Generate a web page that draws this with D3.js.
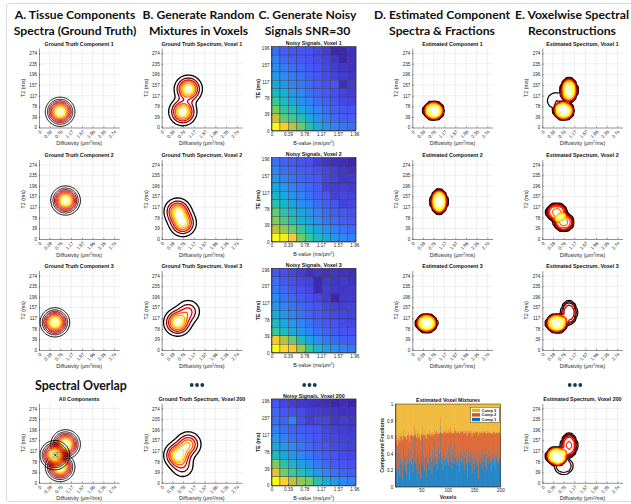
<!DOCTYPE html>
<html><head><meta charset="utf-8">
<script src="https://cdn.jsdelivr.net/npm/d3@7"></script>
<style>body{margin:0;background:#fff;overflow:hidden}</style>
</head><body><script>
// ---------------- DATA ----------------
const headerLines = [
  ["A. Tissue Components","Spectra (Ground Truth)"],
  ["B. Generate Random","Mixtures in Voxels"],
  ["C. Generate Noisy","Signals SNR=30"],
  ["D. Estimated Component","Spectra & Fractions"],
  ["E. Voxelwise Spectral","Reconstructions"]];
const diffTicks = [0,0.39,0.78,1.17,1.57,1.96,2.35,2.74];
const t2Ticks = [0,39,78,117,157,196,235,274];
const bTicks = [0,0.39,0.78,1.17,1.57,1.96];
const teTicks = [0,39,78,117,157,196];
const fracTicks = [0,0.2,0.4,0.6,0.8,1];
const voxelTicks = [50,100,150,200];
const voxelIds = [1,2,3,200];
const componentNames = ["Comp 1","Comp 2","Comp 3"];

// ground-truth components (diffusivity, T2 centre, spreads)
const trueD = [0.77,0.97,0.58];
const trueT2 = [58,142,102];
const trueSdD = [0.24,0.24,0.24];
const trueSdT2 = [24,24,24];
// ground-truth fractions of comp1..3 per shown voxel
const trueFrac = [[0.5,0.5,0],[0.5,0,0.5],[0,0.3,0.7],[0.15,0.35,0.5]];
// estimated components (flat-topped blobs)
const estD = [0.78,0.975,0.52];
const estT2 = [62,138,99];
const estRD = [0.345,0.277,0.355];
const estRT2 = [31,41.8,31];
// estimated fractions per shown voxel
const estFrac = [[0.48,0.45,0.07],[0.5,0,0.5],[0.03,0.27,0.7],[0.12,0.3,0.58]];

// noisy signals (rows: TE high -> low; cols: b low -> high), colour fraction
const signalVoxel1 = [
 [0.22,0.18,0.16,0.16,0.15,0.13,0.11,0.06,0.06,0.08],
 [0.27,0.21,0.18,0.17,0.15,0.14,0.12,0.09,0.05,0.08],
 [0.30,0.25,0.22,0.20,0.17,0.15,0.13,0.11,0.09,0.08],
 [0.33,0.28,0.25,0.23,0.19,0.16,0.14,0.12,0.10,0.09],
 [0.38,0.32,0.27,0.24,0.21,0.18,0.15,0.16,0.07,0.10],
 [0.43,0.40,0.33,0.28,0.23,0.20,0.17,0.15,0.12,0.11],
 [0.52,0.44,0.38,0.31,0.27,0.22,0.19,0.16,0.13,0.12],
 [0.62,0.50,0.46,0.38,0.31,0.27,0.22,0.19,0.16,0.16],
 [0.76,0.58,0.52,0.46,0.38,0.31,0.25,0.21,0.18,0.18],
 [1.00,0.86,0.72,0.60,0.46,0.38,0.31,0.27,0.24,0.22]];
const signalVoxel2 = [
 [0.20,0.17,0.15,0.13,0.12,0.08,0.06,0.05,0.04,0.02],
 [0.25,0.20,0.18,0.16,0.14,0.12,0.10,0.08,0.06,0.05],
 [0.30,0.24,0.21,0.18,0.16,0.14,0.10,0.09,0.06,0.07],
 [0.35,0.30,0.25,0.21,0.18,0.15,0.09,0.08,0.08,0.07],
 [0.40,0.35,0.29,0.25,0.20,0.16,0.14,0.09,0.10,0.09],
 [0.46,0.40,0.34,0.28,0.24,0.19,0.16,0.13,0.09,0.10],
 [0.58,0.47,0.40,0.35,0.29,0.24,0.19,0.16,0.14,0.12],
 [0.62,0.54,0.45,0.38,0.33,0.27,0.22,0.19,0.16,0.14],
 [0.72,0.66,0.58,0.50,0.40,0.34,0.28,0.24,0.20,0.18],
 [1.00,0.96,0.86,0.60,0.50,0.42,0.36,0.30,0.26,0.24]];
const signalVoxel3 = [
 [0.14,0.12,0.10,0.08,0.05,0.07,0.05,0.06,0.05,0.04],
 [0.20,0.14,0.12,0.10,0.09,0.03,0.07,0.06,0.07,0.05],
 [0.22,0.18,0.14,0.12,0.10,0.03,0.08,0.07,0.06,0.07],
 [0.26,0.21,0.18,0.15,0.12,0.10,0.08,0.02,0.07,0.07],
 [0.30,0.25,0.21,0.18,0.15,0.13,0.10,0.09,0.08,0.09],
 [0.36,0.30,0.25,0.21,0.17,0.14,0.12,0.11,0.10,0.09],
 [0.42,0.35,0.30,0.25,0.20,0.17,0.14,0.13,0.11,0.10],
 [0.50,0.42,0.36,0.30,0.25,0.20,0.17,0.15,0.13,0.12],
 [0.84,0.70,0.58,0.42,0.34,0.27,0.22,0.19,0.16,0.15],
 [1.00,0.90,0.85,0.66,0.48,0.40,0.33,0.28,0.24,0.22]];
const signalVoxel200 = [
 [0.14,0.10,0.08,0.07,0.06,0.05,0.04,0.03,0.04,0.02],
 [0.18,0.14,0.12,0.11,0.08,0.08,0.07,0.06,0.05,0.05],
 [0.20,0.17,0.24,0.12,0.08,0.10,0.10,0.07,0.08,0.06],
 [0.24,0.20,0.17,0.15,0.13,0.12,0.10,0.09,0.08,0.07],
 [0.30,0.24,0.20,0.18,0.15,0.13,0.11,0.10,0.09,0.08],
 [0.36,0.30,0.26,0.22,0.18,0.15,0.13,0.11,0.10,0.09],
 [0.42,0.35,0.30,0.26,0.22,0.18,0.15,0.13,0.11,0.10],
 [0.62,0.46,0.40,0.33,0.28,0.22,0.18,0.15,0.13,0.12],
 [0.80,0.60,0.50,0.44,0.38,0.30,0.25,0.20,0.17,0.16],
 [1.00,0.88,0.72,0.64,0.60,0.45,0.37,0.31,0.26,0.23]];
const signals = [signalVoxel1,signalVoxel2,signalVoxel3,signalVoxel200];

// estimated mixture fractions over 200 voxels
const mixComp1 = [
 .30,.42,.18,.05,.35,.48,.22,.40,.12,.33,.45,.28,.38,.10,.30,.52,.25,.35,.44,.20,
 .36,.15,.40,.28,.47,.32,.08,.38,.30,.42,.25,.55,.35,.18,.40,.30,.62,.28,.45,.33,
 .22,.38,.50,.15,.35,.42,.28,.10,.37,.45,.30,.58,.25,.40,.33,.20,.48,.35,.12,.40,
 .30,.44,.26,.38,.52,.20,.36,.42,.30,.15,.46,.34,.40,.25,.55,.32,.38,.28,.45,.36,
 .22,.48,.35,.40,.30,.75,.42,.28,.50,.36,.20,.44,.38,.32,.60,.27,.45,.35,.40,.30,
 .48,.25,.42,.36,.55,.30,.38,.22,.46,.34,.40,.28,.52,.35,.44,.30,.38,.25,.48,.33,
 .40,.18,.36,.45,.30,.42,.26,.38,.50,.32,.20,.44,.35,.40,.28,.46,.12,.36,.42,.30,
 .38,.25,.44,.32,.40,.15,.35,.46,.28,.38,.22,.42,.34,.30,.45,.26,.38,.10,.40,.32,
 .44,.28,.36,.40,.22,.46,.34,.30,.42,.38,.25,.48,.35,.20,.40,.32,.45,.28,.36,.42,
 .30,.38,.18,.44,.34,.40,.26,.46,.32,.38,.22,.42,.35,.30,.44,.28,.38,.34,.40,.32];
const mixComp2 = [
 .33,.20,.38,.45,.24,.18,.35,.22,.42,.28,.20,.33,.24,.46,.30,.17,.37,.26,.22,.40,
 .24,.42,.22,.35,.19,.30,.46,.24,.33,.20,.37,.15,.28,.42,.22,.33,.13,.35,.24,.29,
 .37,.26,.19,.44,.30,.22,.33,.46,.24,.19,.35,.15,.37,.24,.30,.42,.22,.28,.46,.24,
 .33,.22,.37,.26,.17,.42,.28,.22,.35,.46,.20,.30,.24,.37,.15,.33,.26,.40,.22,.28,
 .42,.19,.30,.24,.35,.08,.24,.37,.19,.28,.44,.22,.29,.35,.15,.37,.24,.30,.26,.35,
 .22,.40,.24,.33,.17,.35,.28,.42,.22,.30,.26,.37,.19,.33,.24,.35,.29,.40,.20,.33,
 .28,.46,.30,.22,.37,.26,.40,.29,.19,.33,.44,.24,.30,.28,.37,.22,.50,.33,.26,.35,
 .29,.40,.24,.33,.28,.46,.30,.22,.37,.28,.42,.26,.33,.35,.22,.40,.29,.52,.27,.33,
 .24,.37,.30,.26,.42,.22,.33,.35,.26,.29,.40,.20,.30,.44,.28,.33,.22,.37,.30,.24,
 .35,.28,.46,.24,.30,.26,.40,.22,.33,.28,.42,.24,.30,.35,.22,.37,.29,.33,.26,.30];

// ---------------- SETUP ----------------
const FONT = '"Liberation Sans", Arial, Helvetica, sans-serif';
const svg = d3.select('body').append('svg').attr('width',631).attr('height',504)
  .style('font-family',FONT);
const defs = svg.append('defs');
let clipN = 0;
function clip(x,y,w,h){const id='clip'+(clipN++);defs.append('clipPath').attr('id',id).append('rect').attr('x',x).attr('y',y).attr('width',w).attr('height',h);return `url(#${id})`;}

// frame
svg.append('rect').attr('x',6.5).attr('y',3.5).attr('width',640).attr('height',498).attr('rx',3)
  .attr('fill','none').attr('stroke','#d9d9d9').attr('stroke-width',1);

// headers
const headerX = [75,198.5,307.5,442,572];
const HFONT = 'Lato, "Open Sans", sans-serif';
headerLines.forEach((lines,i)=>{
  lines.forEach((t,j)=>{
    svg.append('text').attr('x',headerX[i]).attr('y',18.5+j*16).attr('text-anchor','middle')
      .style('font-family',HFONT).style('font-weight',700).style('font-size','12.2px')
      .attr('fill','#111').text(t);
  });
});
svg.append('text').attr('x',81).attr('y',389.5).attr('text-anchor','middle')
  .style('font-family',HFONT).style('font-weight',700).style('font-size','12.4px')
  .attr('fill','#111').text('Spectral Overlap');
// ellipsis dots
[197,309.5,575].forEach(cx=>{
  svg.append('g').selectAll('circle').data([-1,0,1]).join('circle')
    .attr('cx',d=>cx+d*5.3).attr('cy',385).attr('r',1.9).attr('fill','#1a3a4e');
});

// ---------------- helpers ----------------
const DMAX = 2.93, TMAX = 293, PW = 80.3, PH = 79.4;
function hot(t){const r=Math.min(1,t/0.375),g=Math.max(0,Math.min(1,(t-0.375)/0.375)),b=Math.max(0,Math.min(1,(t-0.75)/0.25));return d3.rgb(r*255,g*255,b*255).formatHex();}
const TICKFS = '4.6px', LABELFS = '5.3px', TITLEFS = '5.3px';

function styleAxis(ax){
  ax.select('.domain').attr('stroke','#262626').attr('stroke-width',0.5);
  ax.selectAll('.tick line').attr('stroke','#262626').attr('stroke-width',0.5);
  ax.selectAll('.tick text').attr('fill','#262626').style('font-size',TICKFS).style('font-family',FONT);
}

function contourAxes(x0,y0,title){
  const g = svg.append('g');
  const xs = d3.scaleLinear([0,DMAX],[x0,x0+PW]);
  const ys = d3.scaleLinear([0,TMAX],[y0,y0-PH]);
  g.append('g').selectAll('line').data(diffTicks.slice(1)).join('line')
    .attr('x1',d=>xs(d)).attr('x2',d=>xs(d)).attr('y1',y0).attr('y2',y0-PH)
    .attr('stroke','#e4e4e4').attr('stroke-width',0.6);
  g.append('g').selectAll('line').data(t2Ticks.slice(1)).join('line')
    .attr('x1',x0).attr('x2',x0+PW).attr('y1',d=>ys(d)).attr('y2',d=>ys(d))
    .attr('stroke','#e4e4e4').attr('stroke-width',0.6);
  const ay = g.append('g').attr('transform',`translate(${x0},0)`)
    .call(d3.axisLeft(ys).tickValues(t2Ticks).tickFormat(d=>d).tickSize(-1.2).tickPadding(2).tickSizeOuter(0));
  styleAxis(ay);
  const ax = g.append('g').attr('transform',`translate(0,${y0})`)
    .call(d3.axisBottom(xs).tickValues(diffTicks).tickFormat(d=>d===0?'0':d.toFixed(2)).tickSize(-1.2).tickSizeOuter(0));
  styleAxis(ax);
  ax.selectAll('.tick text').attr('y',0).attr('dy',0).attr('text-anchor','end')
    .attr('transform','translate(2.2,4.6) rotate(-45)');
  g.append('text').attr('x',x0+PW/2).attr('y',y0-PH-2.6).attr('text-anchor','middle')
    .style('font-size',TITLEFS).style('font-weight','bold').attr('fill','#111').text(title);
  g.append('text').attr('x',x0+PW/2).attr('y',y0+17.6).attr('text-anchor','middle')
    .style('font-size',LABELFS).attr('fill','#222').html('Diffusivity (<tspan>μm</tspan><tspan dy="-1.8" style="font-size:3.6px">2</tspan><tspan dy="1.8">/ms)</tspan>');
  g.append('text').attr('transform',`translate(${x0-14},${y0-PH/2}) rotate(-90)`).attr('text-anchor','middle')
    .style('font-size',LABELFS).attr('fill','#222').text('T2 (ms)');
  const layer = g.append('g').attr('clip-path',clip(x0,y0-PH,PW,PH));
  return {xs,ys,layer};
}

function drawContours(ax, fn, nx, ny, fracLevels, colors, width){
  const vals = new Float64Array(nx*ny); let mx = 0;
  for(let j=0;j<ny;j++) for(let i=0;i<nx;i++){
    const v = fn(i/(nx-1)*DMAX, j/(ny-1)*TMAX); vals[j*nx+i]=v; if(v>mx) mx=v;
  }
  const cs = d3.contours().size([nx,ny]).thresholds(fracLevels.map(f=>f*mx))(vals);
  const path = d3.geoPath(d3.geoTransform({point(x,y){
    this.stream.point(ax.xs((x-0.5)/(nx-1)*DMAX), ax.ys((y-0.5)/(ny-1)*TMAX));}}));
  ax.layer.append('g').selectAll('path').data(cs).join('path').attr('d',path)
    .attr('fill','none').attr('stroke',(d,i)=>colors[i]).attr('stroke-width',width)
    .attr('stroke-linejoin','round');
}

const gaussComp = k => (D,T) => Math.exp(-0.5*(((D-trueD[k])/trueSdD[k])**2+((T-trueT2[k])/trueSdT2[k])**2));
const flatComp = k => (D,T) => {
  const r2 = ((D-estD[k])/estRD[k])**2+((T-estT2[k])/estRT2[k])**2;
  return Math.exp(-Math.pow(r2,5))*(0.72+0.28*Math.exp(-2*r2));
};
const mixOf = (compFn, fr) => (D,T) => fr.reduce((s,f,k)=> s + (f? f*compFn(k)(D,T):0), 0);

// level sets
const aLevels = d3.range(12).map(i=>0.08+i*0.08);
const aColors = aLevels.map((l,i)=>hot(i/12));
const bLevels = [0.1,0.24,0.38,0.52,0.66,0.8];
const bColors = ['#000000','#700000','#e00000','#ff5a00','#ffb000','#ffee20'];
const eLevels = d3.range(11).map(i=>0.06+i*0.085);
const eColors = eLevels.map((l,i)=>hot(i/11));

const rowZero = [127.5,239,350,482.8];
const colX = {A:39, B:161.7, D:412.3, E:542.3};

// Column A
for(let k=0;k<3;k++){
  const ax = contourAxes(colX.A,rowZero[k],`Ground Truth Component ${k+1}`);
  drawContours(ax,gaussComp(k),80,80,aLevels,aColors,1.0);
}
{
  const ax = contourAxes(colX.A,rowZero[3],'All Components');
  [1,0,2].forEach(k=>drawContours(ax,gaussComp(k),80,80,aLevels,aColors,1.0));
}
// Column B
voxelIds.forEach((v,r)=>{
  const ax = contourAxes(colX.B,rowZero[r],`Ground Truth Spectrum, Voxel ${v}`);
  drawContours(ax,mixOf(gaussComp,trueFrac[r]),80,80,bLevels,bColors,1.3);
});
// Column D
for(let k=0;k<3;k++){
  const ax = contourAxes(colX.D,rowZero[k],`Estimated Component ${k+1}`);
  drawContours(ax,flatComp(k),34,34,eLevels,eColors,1.2);
}
// Column E
voxelIds.forEach((v,r)=>{
  const ax = contourAxes(colX.E,rowZero[r],`Estimated Spectrum, Voxel ${v}`);
  drawContours(ax,mixOf(flatComp,estFrac[r]),34,34,eLevels,eColors,1.2);
});

// ---------------- Column C heatmaps ----------------
const parula = d3.scaleLinear()
  .domain([0,0.11,0.24,0.365,0.49,0.62,0.746,0.87,1])
  .range(['#3e26a8','#4852f4','#2e87f7','#12b1d6','#37c897','#81cc59','#d4be34','#fcce2e','#f9fb15'])
  .interpolate(d3.interpolateRgb).clamp(true);
const heatTop = [46.7,157.7,268.3,399], heatH = [84,84,84.4,86.5];
const HX0 = 271.5, HW = 84.5;
signals.forEach((grid,r)=>{
  const g = svg.append('g');
  const y0 = heatTop[r]+heatH[r];
  const xs = d3.scaleLinear([0,2.0],[HX0,HX0+HW]);
  const ys = d3.scaleLinear([0,200],[y0,heatTop[r]]);
  const flat = grid.flat(); const ext = d3.extent(flat);
  const col = v => parula((v-ext[0])/(ext[1]-ext[0]));
  const cells = [];
  grid.forEach((row,ri)=>row.forEach((v,ci)=>cells.push({ri,ci,v})));
  g.selectAll('rect.c').data(cells).join('rect')
    .attr('x',d=>xs(d.ci*0.2)).attr('width',d=>xs((d.ci+1)*0.2)-xs(d.ci*0.2))
    .attr('y',d=>ys((10-d.ri)*20)).attr('height',d=>ys((9-d.ri)*20)-ys((10-d.ri)*20))
    .attr('fill',d=>col(d.v)).attr('stroke','#2b2b40').attr('stroke-width',0.35);
  g.append('rect').attr('x',HX0).attr('y',heatTop[r]).attr('width',HW).attr('height',heatH[r])
    .attr('fill','none').attr('stroke','#262626').attr('stroke-width',0.5);
  const ay = g.append('g').attr('transform',`translate(${HX0},0)`)
    .call(d3.axisLeft(ys).tickValues(teTicks).tickFormat(d=>d).tickSize(-1.2).tickPadding(2).tickSizeOuter(0));
  styleAxis(ay);
  const axb = g.append('g').attr('transform',`translate(0,${y0})`)
    .call(d3.axisBottom(xs).tickValues(bTicks).tickFormat(d=>d===0?'0':d.toFixed(2)).tickSize(-1.2).tickPadding(2).tickSizeOuter(0));
  styleAxis(axb);
  g.append('text').attr('x',HX0+HW/2).attr('y',heatTop[r]-1.3).attr('text-anchor','middle')
    .style('font-size',TITLEFS).style('font-weight','bold').attr('fill','#111').text(`Noisy Signals, Voxel ${voxelIds[r]}`);
  g.append('text').attr('x',HX0+HW/2).attr('y',y0+14).attr('text-anchor','middle')
    .style('font-size',LABELFS).attr('fill','#222').html('B-value (ms/<tspan>μm</tspan><tspan dy="-1.8" style="font-size:3.6px">2</tspan><tspan dy="1.8">)</tspan>');
  g.append('text').attr('transform',`translate(${HX0-12},${heatTop[r]+heatH[r]/2}) rotate(-90)`).attr('text-anchor','middle')
    .style('font-size',LABELFS).style('font-weight','bold').attr('fill','#222').text('TE (ms)');
});

// ---------------- Stacked bar chart ----------------
{
  const g = svg.append('g');
  const X0=395.3, X1=500.7, Y0=486.7, Y1=404;
  const xb = d3.scaleLinear([0.5,200.5],[X0,X1]);
  const yb = d3.scaleLinear([0,1],[Y0,Y1]);
  const rows = mixComp1.map((c1,i)=>({i:i+1,c1,c2:mixComp2[i],c3:1-c1-mixComp2[i]}));
  const stack = d3.stack().keys(['c1','c2','c3'])(rows);
  const colors = ['#0072BD','#D95319','#EDB120'];
  stack.forEach((layer,li)=>{
    g.append('g').selectAll('rect').data(layer).join('rect')
      .attr('x',d=>xb(d.data.i-0.5)).attr('width',xb(1.5)-xb(0.5)+0.15)
      .attr('y',d=>yb(d[1])).attr('height',d=>yb(d[0])-yb(d[1]))
      .attr('fill',colors[li]);
  });
  g.append('rect').attr('x',X0).attr('y',Y1).attr('width',X1-X0).attr('height',Y0-Y1)
    .attr('fill','none').attr('stroke','#262626').attr('stroke-width',0.5);
  const ay = g.append('g').attr('transform',`translate(${X0},0)`)
    .call(d3.axisLeft(yb).tickValues(fracTicks).tickFormat(d=>d).tickSize(-1.2).tickPadding(2).tickSizeOuter(0));
  styleAxis(ay);
  const axb = g.append('g').attr('transform',`translate(0,${Y0})`)
    .call(d3.axisBottom(xb).tickValues(voxelTicks).tickSize(-1.2).tickPadding(2).tickSizeOuter(0));
  styleAxis(axb);
  g.append('text').attr('x',(X0+X1)/2).attr('y',Y1-2).attr('text-anchor','middle')
    .style('font-size',TITLEFS).style('font-weight','bold').attr('fill','#111').text('Estimated Voxel Mixtures');
  g.append('text').attr('x',(X0+X1)/2).attr('y',Y0+12.5).attr('text-anchor','middle')
    .style('font-size',LABELFS).style('font-weight','bold').attr('fill','#222').text('Voxels');
  g.append('text').attr('transform',`translate(${X0-11.5},${(Y0+Y1)/2}) rotate(-90)`).attr('text-anchor','middle')
    .style('font-size',LABELFS).style('font-weight','bold').attr('fill','#222').text('Component Fractions');
  // legend
  const lg = g.append('g');
  lg.append('rect').attr('x',470.7).attr('y',407.3).attr('width',28.5).attr('height',15)
    .attr('fill','#fff').attr('stroke','#262626').attr('stroke-width',0.4);
  [2,1,0].forEach((k,j)=>{
    lg.append('rect').attr('x',472).attr('y',408.6+j*4.6).attr('width',8).attr('height',3.4).attr('fill',colors[k]);
    lg.append('text').attr('x',481.5).attr('y',411.6+j*4.6).style('font-size','4px').style('font-weight','bold')
      .attr('fill','#222').text(componentNames[k]);
  });
}
</script></body></html>
